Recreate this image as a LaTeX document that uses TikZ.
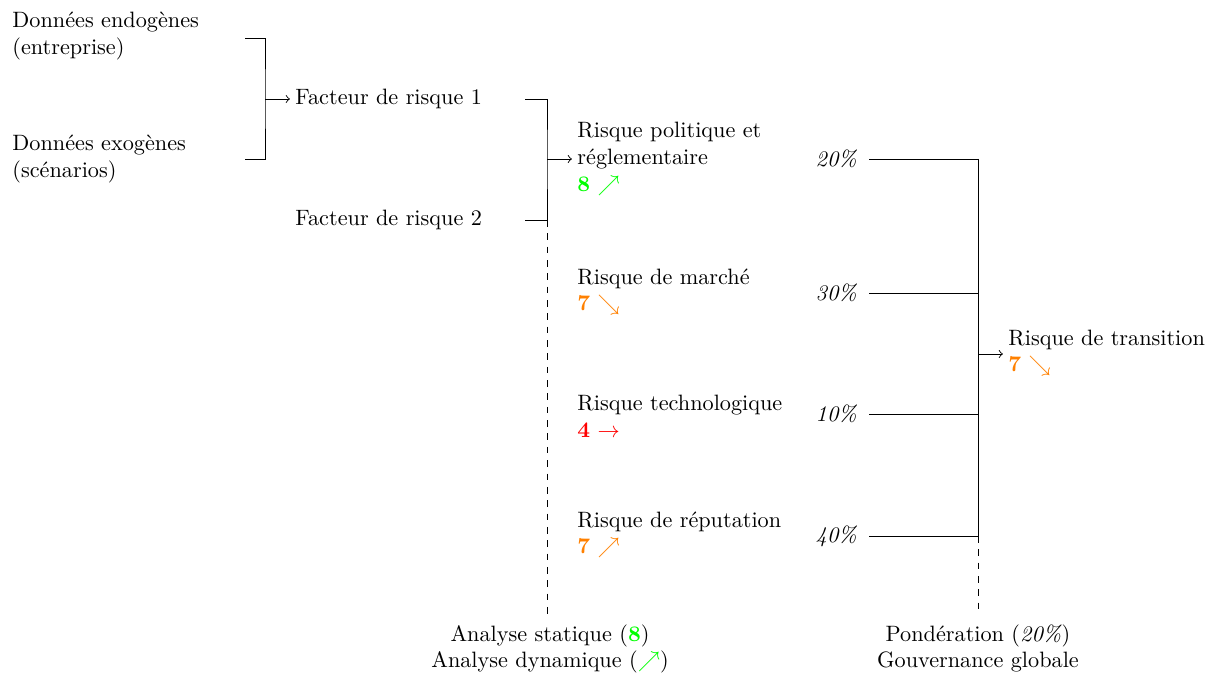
\documentclass[tikz,border=0pt]{standalone}
\usepackage{fontspec}
\begin{document}
\begin{tikzpicture}[x=0.4497pt,y=-0.4497pt,
  txt/.style={inner sep=0pt, align=left, anchor=west},
  pct/.style={inner sep=0pt, anchor=east, font=\itshape},
  bot/.style={inner sep=0pt, align=center, anchor=north},
  arr/.style={->, shorten >=2.3pt}]
\useasboundingbox (0,0) rectangle (1206,673);
% data nodes
\node[txt] (d1) at (12,36) {Données endogènes\\(entreprise)};
\node[txt] (d2) at (12,159) {Données exogènes\\(scénarios)};
\node[txt] (f1) at (295,99) {Facteur de risque 1};
\node[txt] (f2) at (295,220) {Facteur de risque 2};
% risks
\node[txt] (r1) at (577,159) {Risque politique et\\réglementaire\\{\color{green}\textbf{8} $\nearrow$}};
\node[txt] (r2) at (577,292) {Risque de marché\\{\color{orange}\textbf{7} $\searrow$}};
\node[txt] (r3) at (577,416) {Risque technologique\\{\color{red}\textbf{4} $\rightarrow$}};
\node[txt] (r4) at (577,535) {Risque de réputation\\{\color{orange}\textbf{7} $\nearrow$}};
% weights
\node[pct] (p1) at (857,159) {20\%};
\node[pct] (p2) at (857,293) {30\%};
\node[pct] (p3) at (857,414) {10\%};
\node[pct] (p4) at (857,536) {40\%};
\node[txt] (t) at (1008,353) {Risque de transition\\{\color{orange}\textbf{7} $\searrow$}};
% bottom labels
\node[bot] (s1) at (550,624) {Analyse statique ({\color{green}\textbf{8}})\\Analyse dynamique ({\color{green}$\nearrow$})};
\node[bot] (s2) at (978,624) {Pondération (\textit{20\%})\\Gouvernance globale};
% bracket 1
\coordinate (a1) at (245,38);
\coordinate (a2) at (245,159);
\coordinate (ja) at (265,99);
\draw (a1) -| (ja) |- (a2);
\draw[arr] (ja) -- (f1.west);
% bracket 2
\coordinate (b1) at (525,99);
\coordinate (b2) at (525,220);
\coordinate (jb) at (547,159);
\coordinate (jb2) at (547,220);
\draw (b1) -| (jb) |- (b2);
\draw[arr] (jb) -- (r1.west);
\draw[dashed, shorten >=4pt] (jb2) -- (jb2 |- s1.north);
% weights bracket
\coordinate (q1) at (978,159);
\coordinate (q2) at (978,293);
\coordinate (q3) at (978,414);
\coordinate (q4) at (978,536);
\coordinate (qm) at (978,354);
\draw[shorten <=5.5pt] (p1.east) -- (q1);
\draw[shorten <=5.5pt] (p2.east) -- (q2);
\draw[shorten <=5.5pt] (p3.east) -- (q3);
\draw[shorten <=5.5pt] (p4.east) -- (q4);
\draw (q1) -- (q4);
\draw[arr] (qm) -- (qm -| t.west);
\draw[dashed, shorten >=4pt] (q4) -- (q4 |- s2.north);
\end{tikzpicture}
\end{document}
